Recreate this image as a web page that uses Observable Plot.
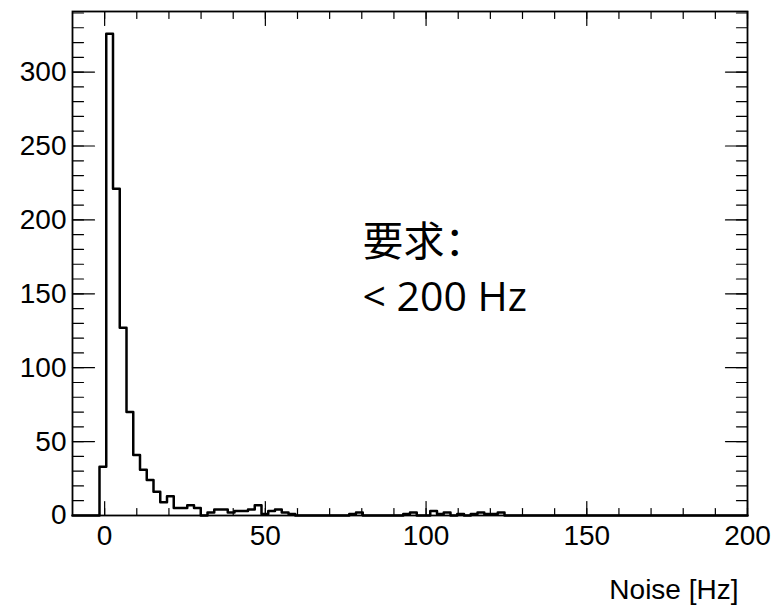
<!DOCTYPE html>
<html>
<head>
<meta charset="utf-8">
<script src="https://cdn.jsdelivr.net/npm/d3@7"></script>
<script src="https://cdn.jsdelivr.net/npm/@observablehq/plot@0.6"></script>
<style>
  html, body { margin: 0; padding: 0; background: #fff; }
</style>
</head>
<body>
<div id="chart"></div>
<script>
// Histogram binning: 100 bins of 2.1 Hz spanning -10 .. 200 Hz
const binLow = -10;
const binHigh = 200;
const binWidth = 2.1;

// Entries per bin, first bin starts at -10 Hz
const counts = [
  0, 0, 0, 0, 33, 326, 221, 127, 70, 41,
  31, 24, 16, 9, 13, 5, 5, 7, 5, 0,
  2, 4, 4, 2, 3, 3, 4, 7, 1, 3,
  4, 2, 1, 0, 0, 0, 0, 0, 0, 0,
  0, 1, 2, 0, 0, 0, 0, 0, 0, 1,
  2, 0, 0, 3, 1, 2, 0, 1, 0, 1,
  2, 1, 1, 2, 0, 0, 0, 0, 0, 0,
  0, 0, 0, 0, 0, 0, 0, 0, 0, 0,
  0, 0, 0, 0, 0, 0, 0, 0, 0, 0,
  0, 0, 0, 0, 0, 0, 0, 0, 0, 0
];

// Axis ranges and ticks
const xRange = [-10, 200];
const yRange = [0, 341];
const xTicks = [0, 50, 100, 150, 200];
const yTicks = [0, 50, 100, 150, 200, 250, 300];
const xMinorTicks = [0, 10, 20, 30, 40, 50, 60, 70, 80, 90, 100, 110, 120, 130, 140, 150, 160, 170, 180, 190, 200];
const yMinorTicks = [0, 10, 20, 30, 40, 50, 60, 70, 80, 90, 100, 110, 120, 130, 140, 150, 160, 170, 180, 190, 200, 210, 220, 230, 240, 250, 260, 270, 280, 290, 300, 310, 320, 330, 340];

const xTitle = "Noise [Hz]";
const noteLines = ["要求：", "< 200 Hz"];

// Step outline through the left edge of every bin, closed at the upper range
const outline = counts.map((c, i) => ({x: binLow + i * binWidth, y: c}));
outline.push({x: binHigh, y: counts[counts.length - 1]});

// A plain straight tick drawn from the anchor point inward
const tickLine = {
  draw(context, l) {
    context.moveTo(0, 0);
    context.lineTo(0, -l);
  }
};

const tickStyle = {stroke: "black", strokeWidth: 1.2, shape: tickLine, anchor: "start"};

const chart = Plot.plot({
  width: 772,
  height: 606,
  marginLeft: 72,
  marginRight: 25,
  marginTop: 11,
  marginBottom: 91,
  x: {domain: xRange},
  y: {domain: yRange},
  style: {
    fontFamily: "'Liberation Sans', Arial, Helvetica, sans-serif",
    fontSize: "28px",
    background: "white",
    color: "black"
  },
  marks: [
    // tick labels
    Plot.axisX(xTicks, {anchor: "bottom", tickSize: 0, tickPadding: 10, label: null, fontSize: 28}),
    Plot.axisY(yTicks, {anchor: "left", tickSize: 0, tickPadding: 6, label: null, fontSize: 28}),
    // inward ticks on all four sides
    Plot.vector(xTicks, {x: d => d, frameAnchor: "bottom", rotate: 0, length: 14, ...tickStyle}),
    Plot.vector(xMinorTicks, {x: d => d, frameAnchor: "bottom", rotate: 0, length: 7, ...tickStyle}),
    Plot.vector(xTicks, {x: d => d, frameAnchor: "top", rotate: 180, length: 14, ...tickStyle}),
    Plot.vector(xMinorTicks, {x: d => d, frameAnchor: "top", rotate: 180, length: 7, ...tickStyle}),
    Plot.vector(yTicks, {y: d => d, frameAnchor: "left", rotate: 90, length: 22, ...tickStyle}),
    Plot.vector(yMinorTicks, {y: d => d, frameAnchor: "left", rotate: 90, length: 11, ...tickStyle}),
    Plot.vector(yTicks, {y: d => d, frameAnchor: "right", rotate: -90, length: 22, ...tickStyle}),
    Plot.vector(yMinorTicks, {y: d => d, frameAnchor: "right", rotate: -90, length: 11, ...tickStyle}),
    // histogram outline
    Plot.line(outline, {x: "x", y: "y", curve: "step-after", stroke: "black", strokeWidth: 2.5}),
    Plot.frame({stroke: "black", strokeWidth: 1.8}),
    // x axis title
    Plot.text([xTitle], {
      text: d => d,
      frameAnchor: "bottom-right",
      dx: -9,
      dy: 83,
      textAnchor: "end",
      lineAnchor: "bottom",
      fontSize: 28
    }),
    // requirement note
    Plot.text([noteLines.join("\n")], {
      text: d => d,
      frameAnchor: "top-left",
      dx: 290,
      dy: 299,
      textAnchor: "start",
      lineAnchor: "bottom",
      lineHeight: 1.34,
      fontSize: 41,
      fontFamily: "'Open Sans', 'Noto Sans CJK SC', sans-serif"
    })
  ]
});

document.getElementById("chart").appendChild(chart);
</script>
</body>
</html>
